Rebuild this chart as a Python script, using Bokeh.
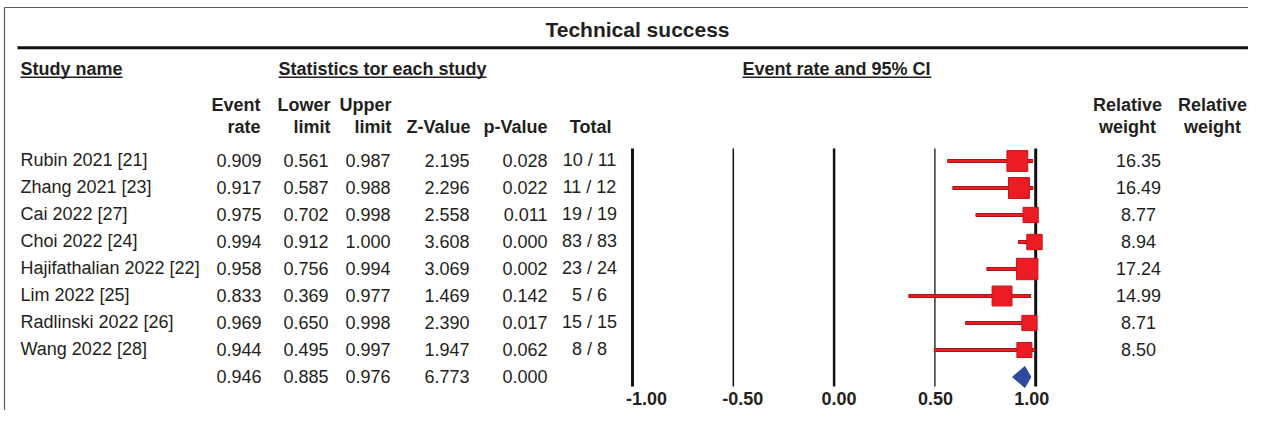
from bokeh.plotting import figure
from bokeh.models import Range1d, ColumnDataSource
from bokeh.embed import file_html
from bokeh.resources import INLINE
from bokeh.core.properties import value

# ---------------- data ----------------
studies = ["Rubin 2021 [21]", "Zhang 2021 [23]", "Cai 2022 [27]", "Choi 2022 [24]",
           "Hajifathalian 2022 [22]", "Lim 2022 [25]", "Radlinski 2022 [26]", "Wang 2022 [28]"]
event_rate = [0.909, 0.917, 0.975, 0.994, 0.958, 0.833, 0.969, 0.944]
lower_limit = [0.561, 0.587, 0.702, 0.912, 0.756, 0.369, 0.650, 0.495]
upper_limit = [0.987, 0.988, 0.998, 1.000, 0.994, 0.977, 0.998, 0.997]
z_value = [2.195, 2.296, 2.558, 3.608, 3.069, 1.469, 2.390, 1.947]
p_value = [0.028, 0.022, 0.011, 0.000, 0.002, 0.142, 0.017, 0.062]
events = [10, 11, 19, 83, 23, 5, 15, 8]
totals = [11, 12, 19, 83, 24, 6, 15, 8]
rel_weight = [16.35, 16.49, 8.77, 8.94, 17.24, 14.99, 8.71, 8.50]

summary_rate = 0.946
summary_lower = 0.885
summary_upper = 0.976
summary_z = 6.773
summary_p = 0.000

tick_values = [-1.0, -0.5, 0.0, 0.5, 1.0]
tick_labels = ["-1.00", "-0.50", "0.00", "0.50", "1.00"]

title = "Technical success"
section_headers = ["Study name", "Statistics tor each study", "Event rate and 95% CI"]
col_head_1 = ["Event", "Lower", "Upper", "", "", "", "Relative", "Relative"]
col_head_2 = ["rate", "limit", "limit", "Z-Value", "p-Value", "Total", "weight", "weight"]

# ---------------- layout / style ----------------
W, H = 1248, 410
FONT = value("Liberation Sans")
INK = "#231f20"
RED = "#ec1c24"
RED_DARK = "#a3161c"
BLUE = "#2e4a9e"

# Helvetica-Bold advance widths (1/1000 em) for underline lengths
BOLD_W = {' ': 278, '%': 889, '.': 278, '-': 333, 'C': 722, 'E': 667, 'I': 278, 'S': 667,
          'a': 556, 'c': 556, 'd': 611, 'e': 556, 'h': 611, 'i': 278, 'm': 889, 'n': 611,
          'o': 611, 'r': 389, 's': 556, 't': 333, 'u': 611, 'y': 556}
for ch in "0123456789":
    BOLD_W[ch] = 556


def bold_width(s, size):
    return sum(BOLD_W.get(c, 600) for c in s) * size / 1000.0


p = figure(width=W, height=H, output_backend="svg", toolbar_location=None,
           x_range=Range1d(0, W), y_range=Range1d(H, 0),
           min_border=0, min_border_left=0, min_border_right=0,
           min_border_top=0, min_border_bottom=0)
p.xaxis.visible = False
p.yaxis.visible = False
p.grid.visible = False
p.outline_line_color = None
p.background_fill_color = "white"
p.border_fill_color = "white"

# forest x-scale: event rate -1 -> x 632, 1 -> x 1035
px_per_unit = 201.6
x0 = 632 + px_per_unit
p.extra_x_ranges = {
    "er": Range1d((0 - x0) / px_per_unit, (W - x0) / px_per_unit),
    "lab": Range1d((0 - 838.6) / 192.6, (W - 838.6) / 192.6),
}
# rows: row i centred at y = 160.5 + 27 i
row_h = 27.0
row0 = 160.5
p.extra_y_ranges = {"row": Range1d((H - row0) / row_h, (0 - row0) / row_h)}

# frame border (top and left)
p.segment(x0=[4, 4], y0=[7, 7], x1=[W, 4], y1=[7, H],
          line_color="#5a5a5a", line_width=1.2)

# title and thick rule
p.text(x=[637], y=[29], text=[title], text_font=FONT, text_font_size="21px",
       text_font_style="bold", text_align="center", text_baseline="middle", text_color=INK)
p.segment(x0=[17], y0=[47.3], x1=[1259], y1=[47.3], line_color="#111111", line_width=3)

# section headers with underline
sec_x = [20, 278, 742]
p.text(x=sec_x, y=[68] * 3, text=section_headers, text_font=FONT, text_font_size="18px",
       text_font_style="bold", text_align="left", text_baseline="middle", text_color=INK)
p.segment(x0=sec_x, y0=[76.7] * 3,
          x1=[x + bold_width(s, 18) for x, s in zip(sec_x, section_headers)], y1=[76.7] * 3,
          line_color=INK, line_width=1.5)

# column headers
head_x = [260, 330, 391, 470, 547, 611]
p.text(x=head_x, y=[104] * 6, text=col_head_1[:6], text_font=FONT, text_font_size="18px",
       text_font_style="bold", text_align="right", text_baseline="middle", text_color=INK)
p.text(x=head_x, y=[126] * 6, text=col_head_2[:6], text_font=FONT, text_font_size="18px",
       text_font_style="bold", text_align="right", text_baseline="middle", text_color=INK)
rw_x = [1127, 1212]
p.text(x=rw_x, y=[104] * 2, text=col_head_1[6:], text_font=FONT, text_font_size="18px",
       text_font_style="bold", text_align="center", text_baseline="middle", text_color=INK)
p.text(x=rw_x, y=[126] * 2, text=col_head_2[6:], text_font=FONT, text_font_size="18px",
       text_font_style="bold", text_align="center", text_baseline="middle", text_color=INK)

# ---------------- table body ----------------
n = len(studies)
rows = list(range(n))
all_rows = rows + [n]
fmt = lambda v: f"{v:.3f}"

src = ColumnDataSource(dict(
    row=all_rows,
    name=studies + [""],
    rate=[fmt(v) for v in event_rate + [summary_rate]],
    lo=[fmt(v) for v in lower_limit + [summary_lower]],
    up=[fmt(v) for v in upper_limit + [summary_upper]],
    z=[fmt(v) for v in z_value + [summary_z]],
    pv=[fmt(v) for v in p_value + [summary_p]],
    tot=[f"{e} / {t}" for e, t in zip(events, totals)] + [""],
    wt=[f"{w:.2f}" for w in rel_weight] + [""],
))

common = dict(source=src, y="row", y_range_name="row", y_offset=-1, text_font=FONT,
              text_font_size="18px", text_baseline="middle", text_color=INK)
p.text(x=20, text="name", text_align="left", **common)
for col, xr in zip(["rate", "lo", "up", "z", "pv"], [261, 328, 390, 469, 547]):
    p.text(x=xr, text=col, text_align="right", **common)
p.text(x=589, text="tot", text_align="center", **common)
p.text(x=1138, text="wt", text_align="center", **common)

# ---------------- forest plot ----------------
tick_widths = [3, 1.5, 2.5, 1.3, 3]
p.segment(x0=tick_values, x1=tick_values, y0=[148] * 5, y1=[386] * 5,
          x_range_name="er", line_color="#111111", line_width=tick_widths)
p.text(x=tick_values, y=[397.5] * 5, text=tick_labels, x_range_name="lab",
       text_font=FONT, text_font_size="18px", text_font_style="bold",
       text_align="center", text_baseline="middle", text_color=INK)

forest = ColumnDataSource(dict(
    row=rows, rate=event_rate, lo=lower_limit, up=upper_limit,
    size=[5.15 * (w ** 0.5) for w in rel_weight],
))
p.segment(x0="lo", x1="up", y0="row", y1="row", source=forest, x_range_name="er",
          y_range_name="row", line_color=RED_DARK, line_width=4)
p.segment(x0="lo", x1="up", y0="row", y1="row", source=forest, x_range_name="er",
          y_range_name="row", line_color=RED, line_width=2)
p.rect(x="rate", y="row", width="size", height="size", width_units="screen",
       height_units="screen", source=forest, x_range_name="er", y_range_name="row",
       fill_color=RED, line_color="#c8151b", line_width=1)

half = 10.5 / row_h
p.patch(x=[summary_lower, summary_rate, summary_upper, summary_rate],
        y=[n, n - half, n, n + half], x_range_name="er", y_range_name="row",
        fill_color=BLUE, line_color=BLUE, line_width=1)

open("out.html", "w").write(file_html(p, INLINE))
